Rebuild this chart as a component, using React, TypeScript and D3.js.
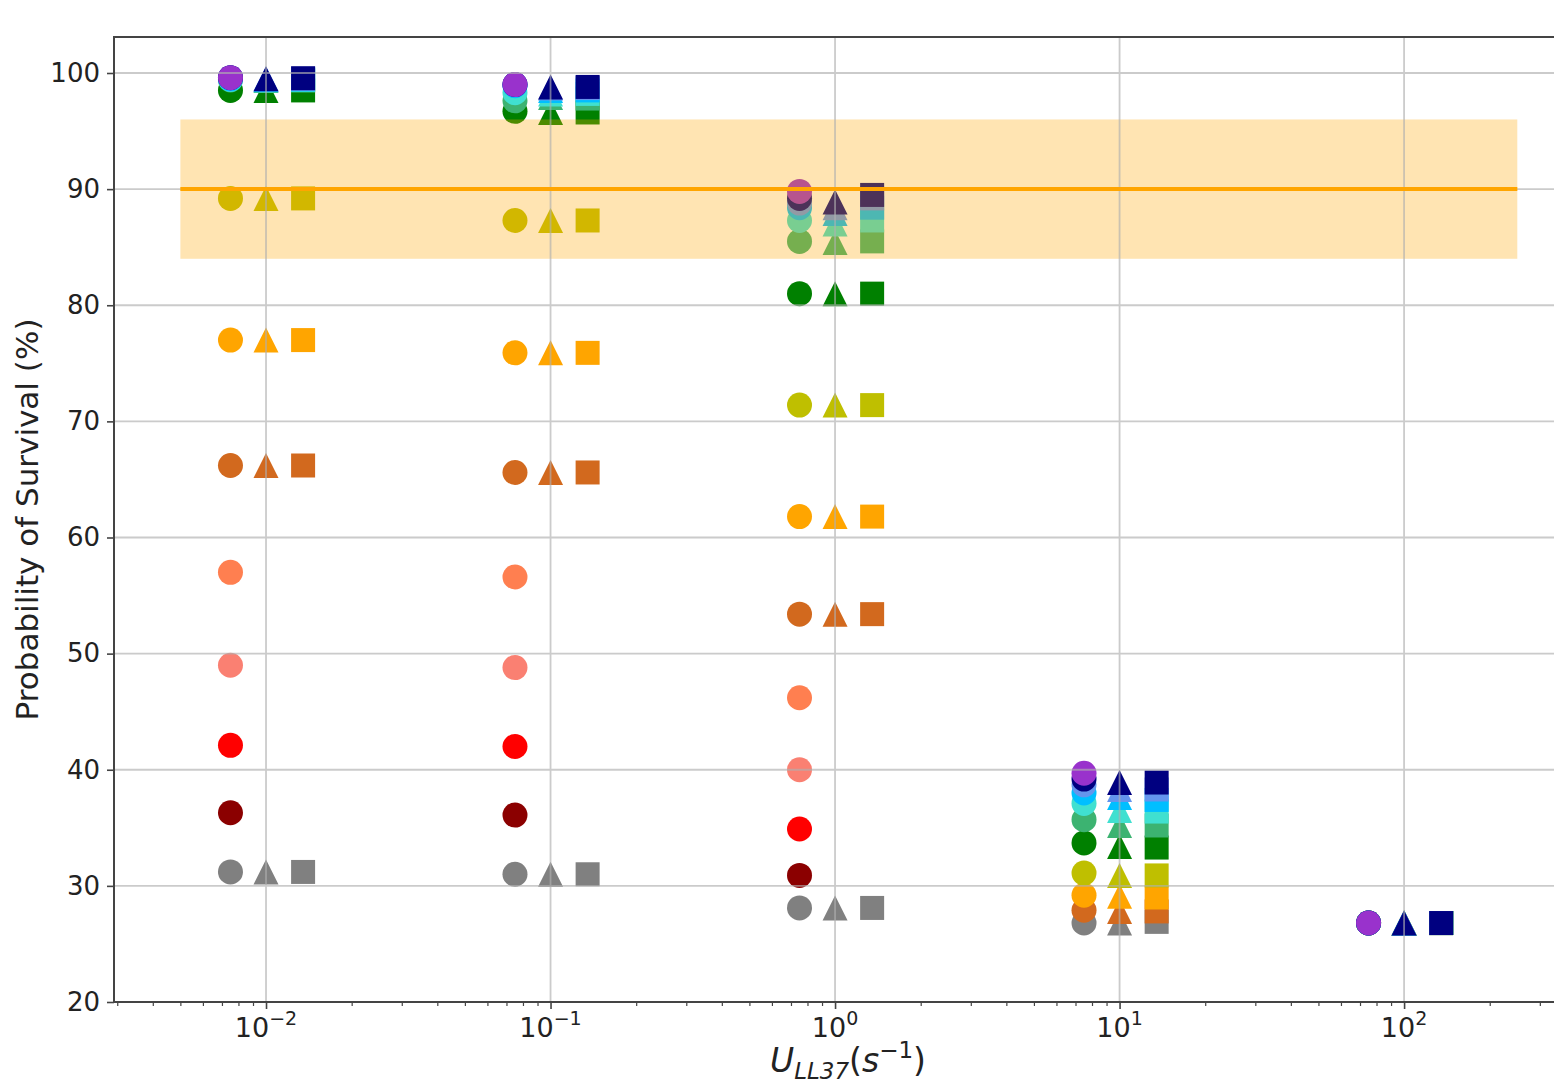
import React, { useEffect, useRef } from 'react';
import * as d3 from 'd3';

// U_LL37 levels (s^-1) where the three models were evaluated
const uLevels = [0.01, 0.1, 1, 10, 100];
const yTicks = [20, 30, 40, 50, 60, 70, 80, 90, 100];
const xTickExponents = [-2, -1, 0, 1, 2];

// markers are spread around each U level (circle left, triangle on it, square right)
const circleShift = 0.75;
const triangleShift = 1;
const squareShift = 1.35;

// colours, drawn in this order (lowest survival first)
const circleColors = [
  'gray', 'darkred', 'red', 'salmon', 'coral', 'chocolate', 'orange', '#bfbf00',
  'green', 'mediumseagreen', 'turquoise', 'deepskyblue', 'cornflowerblue', 'navy', 'darkorchid',
];
const circleValues = [
  [31.2, 31.0, 28.1, 26.8, 26.8],
  [36.3, 36.1, 30.9, null, null],
  [42.1, 42.0, 34.9, null, null],
  [49.0, 48.8, 40.0, null, null],
  [57.0, 56.6, 46.2, null, null],
  [66.2, 65.6, 53.4, 27.9, 26.8],
  [77.0, 75.9, 61.8, 29.2, 26.8],
  [89.2, 87.3, 71.4, 31.1, 26.8],
  [98.5, 96.7, 81.0, 33.7, 26.8],
  [99.4, 97.6, 85.5, 35.7, 26.8],
  [99.45, 98.3, 87.3, 37.1, 26.8],
  [99.5, 98.9, 88.4, 38.0, 26.8],
  [99.6, 99.0, 88.8, 38.7, 26.8],
  [99.6, 99.0, 89.2, 39.2, 26.8],
  [99.6, 99.0, 89.8, 39.7, 26.8],
];

const otherColors = [
  'gray', 'chocolate', 'orange', '#bfbf00', 'green', 'mediumseagreen',
  'turquoise', 'deepskyblue', 'cornflowerblue', 'navy',
];
const triangleValues = [
  [31.2, 31.0, 28.1, 26.8, 26.8],
  [66.2, 65.6, 53.4, 27.8, 26.8],
  [77.0, 75.9, 61.8, 29.1, 26.8],
  [89.2, 87.3, 71.4, 30.9, 26.8],
  [98.5, 96.6, 81.0, 33.4, 26.8],
  [99.35, 97.9, 85.4, 35.2, 26.8],
  [99.4, 98.2, 87.0, 36.5, 26.8],
  [99.45, 98.5, 87.9, 37.6, 26.8],
  [99.5, 98.7, 88.4, 38.3, 26.8],
  [99.5, 98.8, 88.9, 38.9, 26.8],
];
const squareValues = [
  [31.2, 31.0, 28.1, 26.9, 26.8],
  [66.2, 65.6, 53.4, 27.8, 26.8],
  [77.0, 75.9, 61.8, 29.0, 26.8],
  [89.2, 87.3, 71.4, 30.9, 26.8],
  [98.5, 96.6, 81.0, 33.3, 26.8],
  [99.35, 97.8, 85.5, 35.2, 26.8],
  [99.4, 98.2, 87.3, 36.4, 26.8],
  [99.45, 98.5, 88.4, 37.4, 26.8],
  [99.5, 98.7, 89.2, 38.3, 26.8],
  [99.55, 98.8, 89.5, 38.9, 26.8],
];

// target band
const bandX = [0.005, 250];
const bandY = [84, 96];
const targetLine = 90;

const W = 1554;
const H = 1089;
const FONT = 'DejaVu Sans, sans-serif';

const App = () => {
  const svgRef = useRef(null);

  useEffect(() => {
    const svg = d3.select(svgRef.current);
    svg.selectAll('*').remove();

    const left = 114, top = 37, right = 1560, bottom = 1002;

    const x = d3.scaleLog()
      .domain([Math.pow(10, -2.5343), Math.pow(10, 2.548)])
      .range([left, right]);
    const y = d3.scaleLinear().domain([20, 103.1]).range([bottom, top]);

    svg.append('rect').attr('width', W).attr('height', H).attr('fill', 'white');

    const plot = svg.append('g');

    const triPath = (r) => `M0,${-r}L${r},${r}L${-r},${r}Z`;

    const drawSet = (values, colors, shift, kind) => {
      values.forEach((row, i) => {
        row.forEach((v, j) => {
          if (v == null) return;
          const cx = x(uLevels[j] * shift);
          const cy = y(v);
          if (kind === 'circle') {
            plot.append('circle').attr('cx', cx).attr('cy', cy).attr('r', 12.5)
              .attr('fill', colors[i]);
          } else if (kind === 'triangle') {
            plot.append('path').attr('d', triPath(12.5))
              .attr('transform', `translate(${cx},${cy})`).attr('fill', colors[i]);
          } else {
            plot.append('rect').attr('x', cx - 12).attr('y', cy - 12)
              .attr('width', 24).attr('height', 24).attr('fill', colors[i]);
          }
        });
      });
    };
    drawSet(circleValues, circleColors, circleShift, 'circle');
    drawSet(triangleValues, otherColors, triangleShift, 'triangle');
    drawSet(squareValues, otherColors, squareShift, 'square');

    // shaded band sits over the markers
    plot.append('rect')
      .attr('x', x(bandX[0])).attr('width', x(bandX[1]) - x(bandX[0]))
      .attr('y', y(bandY[1])).attr('height', y(bandY[0]) - y(bandY[1]))
      .attr('fill', 'orange').attr('opacity', 0.3);

    // grid
    const grid = svg.append('g').attr('stroke', '#b0b0b0').attr('stroke-width', 1.8)
      .attr('opacity', 0.65);
    yTicks.forEach((t) => {
      grid.append('line').attr('x1', left).attr('x2', right).attr('y1', y(t)).attr('y2', y(t));
    });
    xTickExponents.forEach((e) => {
      const xv = x(Math.pow(10, e));
      grid.append('line').attr('x1', xv).attr('x2', xv).attr('y1', top).attr('y2', bottom);
    });

    svg.append('line')
      .attr('x1', x(bandX[0])).attr('x2', x(bandX[1]))
      .attr('y1', y(targetLine)).attr('y2', y(targetLine))
      .attr('stroke', '#ffa500').attr('stroke-width', 4);

    // y axis
    const yAxis = d3.axisLeft(y).tickValues(yTicks).tickSize(7).tickPadding(7);
    const gy = svg.append('g').attr('transform', `translate(${left},0)`).call(yAxis);
    gy.select('.domain').remove();
    gy.selectAll('line').attr('stroke', '#444').attr('stroke-width', 1.6);
    gy.selectAll('text').attr('font-family', FONT).attr('font-size', 26).attr('fill', '#222');

    // x axis, major + minor ticks
    const majors = xTickExponents.map((e) => Math.pow(10, e));
    const xAxis = d3.axisBottom(x).tickValues(majors).tickSize(7).tickFormat(() => '');
    const gx = svg.append('g').attr('transform', `translate(0,${bottom})`).call(xAxis);
    gx.select('.domain').remove();
    gx.selectAll('line').attr('stroke', '#444').attr('stroke-width', 1.6);

    const [d0, d1] = x.domain();
    const minors = [];
    for (let e = -3; e <= 2; e++) {
      for (let k = 2; k <= 9; k++) {
        const v = k * Math.pow(10, e);
        if (v >= d0 && v <= d1) minors.push(v);
      }
    }
    const minorAxis = d3.axisBottom(x).tickValues(minors).tickSize(4).tickFormat(() => '');
    const gm = svg.append('g').attr('transform', `translate(0,${bottom})`).call(minorAxis);
    gm.select('.domain').remove();
    gm.selectAll('line').attr('stroke', '#444').attr('stroke-width', 1.2);

    const labels = svg.append('g').attr('font-family', FONT).attr('fill', '#222');
    xTickExponents.forEach((e) => {
      const t = labels.append('text')
        .attr('x', x(Math.pow(10, e))).attr('y', 1037)
        .attr('text-anchor', 'middle').attr('font-size', 27);
      t.append('tspan').text('10');
      t.append('tspan').attr('font-size', 19).attr('dy', -12)
        .text(e < 0 ? `\u2212${-e}` : `${e}`);
    });

    // frame
    svg.append('rect')
      .attr('x', left).attr('y', top).attr('width', right - left).attr('height', bottom - top)
      .attr('fill', 'none').attr('stroke', '#444').attr('stroke-width', 2);

    // axis titles
    labels.append('text')
      .attr('transform', `translate(38,${(top + bottom) / 2}) rotate(-90)`)
      .attr('text-anchor', 'middle').attr('font-size', 31)
      .text('Probability of Survival (%)');

    const xl = labels.append('text')
      .attr('x', 848).attr('y', 1072).attr('text-anchor', 'middle').attr('font-size', 33);
    xl.append('tspan').attr('font-style', 'italic').text('U');
    xl.append('tspan').attr('font-style', 'italic').attr('font-size', 23).attr('dy', 7).text('LL37');
    xl.append('tspan').attr('dy', -7).text('(');
    xl.append('tspan').attr('font-style', 'italic').text('s');
    xl.append('tspan').attr('font-size', 23).attr('dy', -14).text('\u22121');
    xl.append('tspan').attr('dy', 14).text(')');
  }, []);

  return (
    <svg
      ref={svgRef}
      width={W}
      height={H}
      style={{ position: 'absolute', left: 0, top: 0, display: 'block' }}
    />
  );
};

export default App;
